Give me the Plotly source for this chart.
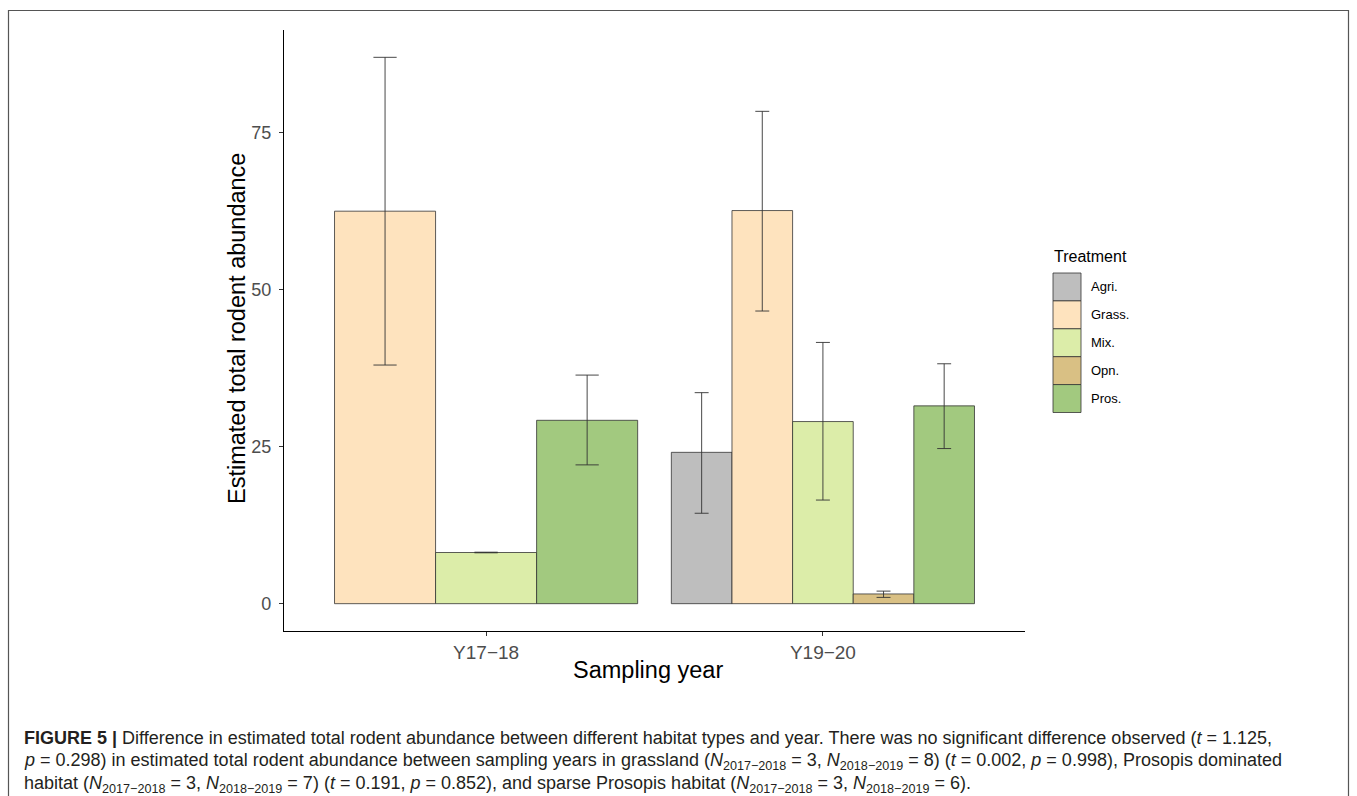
import plotly.graph_objects as go

# ---------------- data ----------------
years = ["Y17\u221218", "Y19\u221220"]
treatments = ["Agri.", "Grass.", "Mix.", "Opn.", "Pros."]
colors = ["#BEBEBE", "#FEE3BE", "#DCEDA9", "#D9C084", "#A2C97F"]

# per year: treatments present, mean, lower, upper
y1718_treat = ["Grass.", "Mix.", "Pros."]
y1718_mean = [62.5, 8.15, 29.2]
y1718_low = [38.0, 8.1, 22.1]
y1718_high = [87.0, 8.2, 36.4]

y1920_treat = ["Agri.", "Grass.", "Mix.", "Opn.", "Pros."]
y1920_mean = [24.1, 62.6, 29.0, 1.55, 31.5]
y1920_low = [14.4, 46.6, 16.5, 1.0, 24.7]
y1920_high = [33.6, 78.4, 41.6, 2.0, 38.2]

yticks = [0, 25, 50, 75]

groups = [
    (y1718_treat, y1718_mean, y1718_low, y1718_high),
    (y1920_treat, y1920_mean, y1920_low, y1920_high),
]

# ---------------- layout constants ----------------
W, H = 1357, 796
L, R, T, B = 284, 1025, 30, 631  # plot area in px
FONT = "Liberation Sans, Arial, Helvetica, sans-serif"
XMIN, XMAX = 0.4, 2.6
ymin, ymax = -4.35, 91.35

fig = go.Figure()

dodge = 0.9
px_per_unit = (R - L) / (XMAX - XMIN)
for gi, (tr, mn, lo, hi) in enumerate(groups):
    n = len(tr)
    w = dodge / n
    xs = [gi + 1 - dodge / 2 + (i + 0.5) * w for i in range(n)]
    for i, t in enumerate(tr):
        c = colors[treatments.index(t)]
        fig.add_trace(go.Bar(
            x=[xs[i]], y=[mn[i]], width=[w],
            marker=dict(color=c, line=dict(color="#333333", width=0.8)),
            name=t, showlegend=False, hoverinfo="skip",
        ))
    cap_half = 0.23 * w * px_per_unit / 2
    fig.add_trace(go.Scatter(
        x=xs, y=mn, mode="markers",
        marker=dict(size=1, opacity=0),
        error_y=dict(type="data", symmetric=False,
                     array=[h - m for h, m in zip(hi, mn)],
                     arrayminus=[m - l for m, l in zip(mn, lo)],
                     color="#333333", thickness=0.9, width=cap_half),
        showlegend=False, hoverinfo="skip",
    ))

fig.update_layout(
    width=W, height=H,
    margin=dict(l=L, r=W - R, t=T, b=H - B, pad=0),
    paper_bgcolor="white", plot_bgcolor="white",
    barmode="overlay",
    font=dict(family=FONT, color="#000000"),
    xaxis=dict(range=[XMIN, XMAX], tickvals=[1, 2], ticktext=years,
               showgrid=False, zeroline=False, showline=True,
               linecolor="black", linewidth=1.3, ticks="outside",
               ticklen=4, tickcolor="#333333", tickwidth=1,
               tickfont=dict(size=19, color="#4D4D4D", family=FONT)),
    yaxis=dict(range=[ymin, ymax], tickvals=yticks,
               showgrid=False, zeroline=False, showline=True,
               linecolor="black", linewidth=1.3, ticks="outside",
               ticklen=4, tickcolor="#333333", tickwidth=1,
               ticklabelstandoff=4,
               tickfont=dict(size=18, color="#4D4D4D", family=FONT)),
    showlegend=False,
)

def px_x(p):
    return (p - L) / (R - L)

def px_y(p):
    return (B - p) / (B - T)

ann = []
shapes = []
ann.append(dict(text="Sampling year", xref="paper", yref="paper",
                x=px_x(648), y=px_y(670), xanchor="center", yanchor="middle",
                showarrow=False, font=dict(size=23.5, family=FONT, color="black")))
ann.append(dict(text="Estimated total rodent abundance", xref="paper", yref="paper",
                x=px_x(237), y=px_y(329), textangle=-90, xanchor="center",
                yanchor="middle", showarrow=False,
                font=dict(size=23.5, family=FONT, color="black")))

# legend (drawn manually, ggplot style)
ann.append(dict(text="Treatment", xref="paper", yref="paper",
                x=px_x(1052), y=px_y(256), xanchor="left", yanchor="middle",
                showarrow=False, font=dict(size=16, family=FONT, color="black")))
key_top, key_h, key_l, key_w = 273, 27.9, 1053, 28
for i, t in enumerate(treatments):
    y0 = key_top + i * key_h
    shapes.append(dict(type="rect", xref="paper", yref="paper",
                       x0=px_x(key_l), x1=px_x(key_l + key_w),
                       y0=px_y(y0), y1=px_y(y0 + key_h),
                       fillcolor=colors[i], line=dict(color="#333333", width=0.8)))
    ann.append(dict(text=t, xref="paper", yref="paper",
                    x=px_x(1089), y=px_y(y0 + key_h / 2), xanchor="left",
                    yanchor="middle", showarrow=False,
                    font=dict(size=13, family=FONT, color="black")))

# outer frame
shapes.append(dict(type="rect", xref="paper", yref="paper",
                   x0=px_x(8.5), x1=px_x(1348.5), y0=px_y(820), y1=px_y(10.5),
                   line=dict(color="#555555", width=1.2), fillcolor="rgba(0,0,0,0)"))

# caption
CAP_FONT = "Liberation Sans, Arial, sans-serif"
cap_lines = [
    "<b>FIGURE 5 |</b> Difference in estimated total rodent abundance between different habitat types and year. "
    "There was no significant difference observed (<i>t</i> = 1.125,",
    "<i>p</i> = 0.298) in estimated total rodent abundance between sampling years in grassland "
    "(<i>N</i><sub>2017\u22122018</sub> = 3, <i>N</i><sub>2018\u22122019</sub> = 8) (<i>t</i> = 0.002, "
    "<i>p</i> = 0.998), Prosopis dominated",
    "habitat (<i>N</i><sub>2017\u22122018</sub> = 3, <i>N</i><sub>2018\u22122019</sub> = 7) "
    "(<i>t</i> = 0.191, <i>p</i> = 0.852), and sparse Prosopis habitat "
    "(<i>N</i><sub>2017\u22122018</sub> = 3, <i>N</i><sub>2018\u22122019</sub> = 6).",
]
for i, line in enumerate(cap_lines):
    ann.append(dict(text=line, xref="paper", yref="paper",
                    x=px_x(22), y=px_y(738 + i * 23), xanchor="left",
                    yanchor="middle", showarrow=False, align="left",
                    font=dict(size=18, family=CAP_FONT, color="#231F20")))

fig.update_layout(annotations=ann, shapes=shapes)
fig.write_html("out.html", config={"displayModeBar": False},
               post_script="document.body.style.margin='0';document.body.style.overflow='hidden';")
